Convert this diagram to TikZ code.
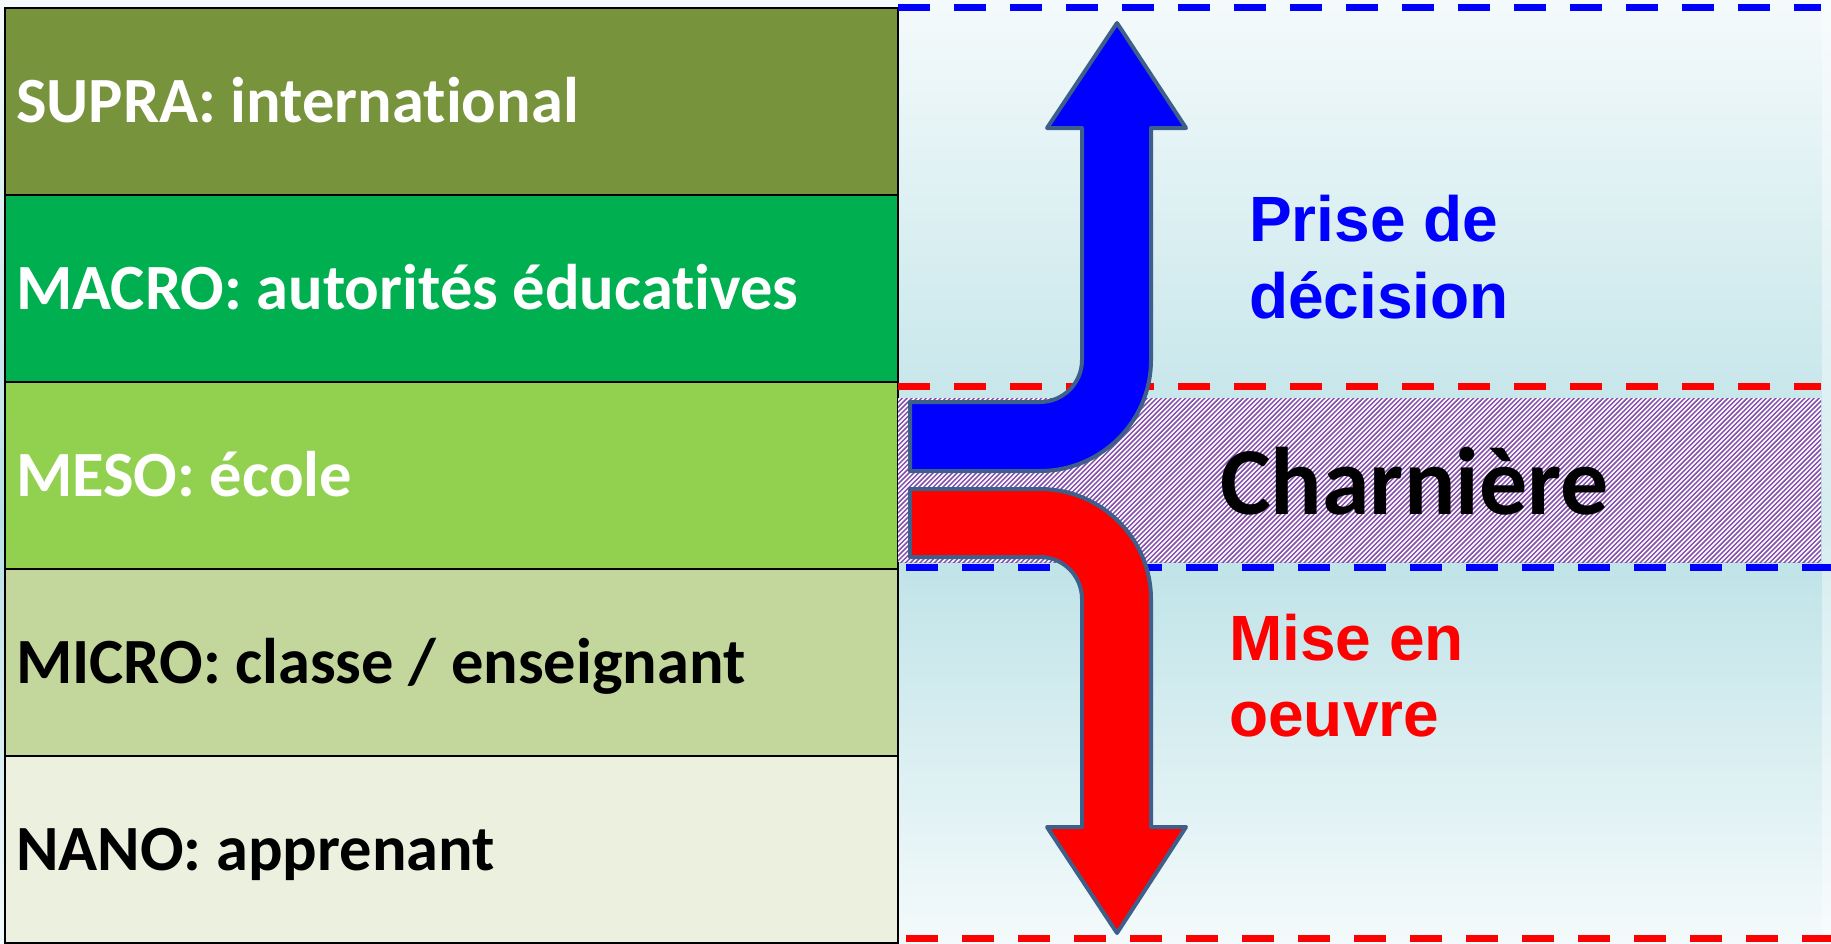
\documentclass[tikz,border=0pt]{standalone}
\usepackage{fontspec}
\setmainfont{Carlito}[Ligatures=NoCommon]
\newfontfamily\arialf{Liberation Sans}
\definecolor{csupra}{HTML}{77933C}
\definecolor{cmacro}{HTML}{00B050}
\definecolor{cmeso}{HTML}{92D050}
\definecolor{cmicro}{HTML}{C3D69B}
\definecolor{cnano}{HTML}{EBF1DE}
\definecolor{bgtop}{HTML}{F4FAFB}
\definecolor{bgmid}{HTML}{BAE1E6}
\definecolor{hatchc}{HTML}{7030A0}
\definecolor{arrowedge}{HTML}{3E5F8A}
\definecolor{dblue}{HTML}{0000FF}
\definecolor{dred}{HTML}{FF0000}
\begin{document}
\begin{tikzpicture}[x=1pt,y=-1pt,
  rowbox/.style={draw=black,line width=2.5pt,minimum width=893pt,minimum height=187pt,inner sep=0pt,outer sep=0pt},
  lvl/.style={font=\bfseries\fontsize{64.5}{70}\selectfont,anchor=west,inner sep=0pt,text height=41.5pt,text depth=0pt},
  arrowshape/.style={draw=arrowedge,line width=4pt,line join=round},
  dashline/.style={line width=7pt,dash pattern=on 32pt off 24pt},
  bigtxt/.style={font=\arialf\bfseries\fontsize{64}{70}\selectfont,anchor=base west,inner sep=0pt}
]
\useasboundingbox (0,0) rectangle (1831,943);
% background
\shade[top color=bgtop,bottom color=bgmid] (0,0) rectangle (1831,520);
\shade[top color=bgmid,bottom color=bgtop] (0,520) rectangle (1831,943);
\fill[white,opacity=0.4] (1822,0) rectangle (1831,943);

% table rows
\node[rowbox,fill=csupra] (supra) at (451.5,101.5) {};
\node[rowbox,fill=cmacro] (macro) at (451.5,288.5) {};
\node[rowbox,fill=cmeso]  (meso)  at (451.5,475.5) {};
\node[rowbox,fill=cmicro] (micro) at (451.5,662.5) {};
\node[rowbox,fill=cnano]  (nano)  at (451.5,849.5) {};

\node[lvl,text=white] (supraT) at ([xshift=11pt]supra.west) {SUPRA: international};
\node[lvl,text=white] (macroT) at ([xshift=11pt]macro.west) {MACRO: autorités éducatives};
\node[lvl,text=white] (mesoT)  at ([xshift=11pt]meso.west)  {MESO: école};
\node[lvl,text=black] (microT) at ([xshift=11pt]micro.west) {MICRO: classe / enseignant};
\node[lvl,text=black] (nanoT)  at ([xshift=11pt]nano.west)  {NANO: apprenant};

% hatched band
\node[fill=white,minimum width=923pt,minimum height=164pt,inner sep=0pt,outer sep=0pt] (band) at (1359.5,480) {};
\begin{scope}
  \clip (band.south west) rectangle (band.north east);
  \foreach \i in {0,...,230} {
    \draw[hatchc!85,line width=1.5pt] ({720+\i*4.8},566) -- ++(172,-172);
  }
\end{scope}

% dashed lines
\coordinate (d1s) at (898,7);   \coordinate (d1e) at (1821,7);
\coordinate (d2s) at (898,386); \coordinate (d2e) at (1821,386);
\coordinate (d3s) at (906,567); \coordinate (d3e) at (1831,567);
\coordinate (d4s) at (906,938); \coordinate (d4e) at (1831,938);
\draw[dashline,dblue] (d1s) -- (d1e);
\draw[dashline,dred]  (d2s) -- (d2e);
\draw[dashline,dblue] (d3s) -- (d3e);
\draw[dashline,dred]  (d4s) -- (d4e);

% arrows
\draw[arrowshape,fill=dblue] (910,402) -- (1040,402)
  .. controls (1063.2,402) and (1082,383.2) .. (1082,360)
  -- (1082,128) -- (1047,128) -- (1117,23) -- (1186,128) -- (1151,128) -- (1151,360)
  .. controls (1151,421.3) and (1101.3,471) .. (1040,471)
  -- (910,471) -- cycle;
\draw[arrowshape,fill=dred] (910,489) -- (1040,489)
  .. controls (1100.8,489) and (1151,538.2) .. (1151,599)
  -- (1151,827) -- (1186,827) -- (1117,933) -- (1047,827) -- (1082,827) -- (1082,599)
  .. controls (1082,575.8) and (1063.2,557) .. (1040,557)
  -- (910,557) -- cycle;

% texts
\node[bigtxt,text=dblue] (prise) at (1249,241) {Prise de};
\node[bigtxt,text=dblue] (decision) at (1249,318) {décision};
\node[bigtxt,text=dred] (mise) at (1229,660) {Mise en};
\node[bigtxt,text=dred] (oeuvre) at (1229,736) {oeuvre};
\node[font=\bfseries\fontsize{96}{100}\selectfont,anchor=base west,inner sep=0pt] (charn) at (1220,514) {Charnière};
\end{tikzpicture}
\end{document}
